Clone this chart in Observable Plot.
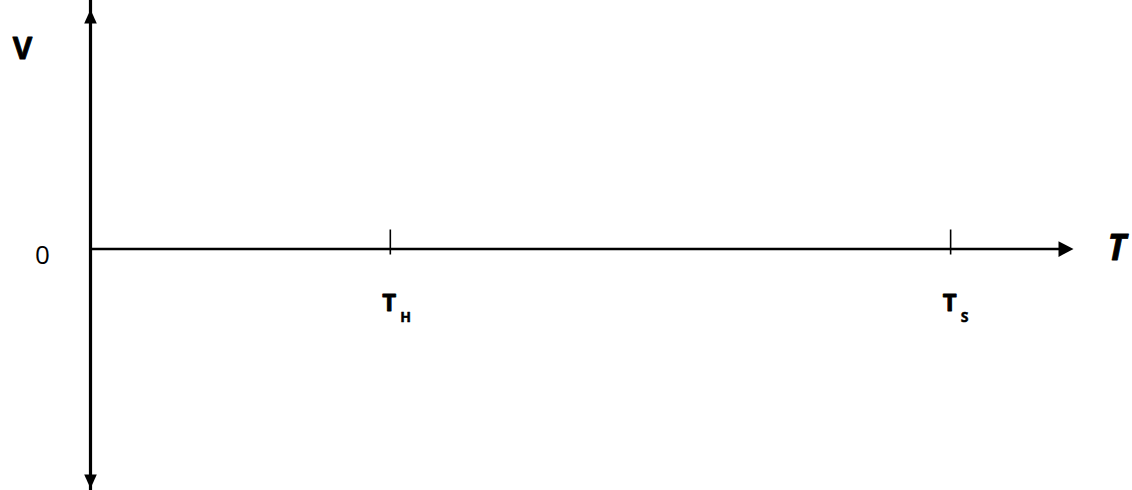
<!DOCTYPE html>
<html>
<head>
<meta charset="utf-8">
<script src="https://cdn.jsdelivr.net/npm/d3@7"></script>
<script src="https://cdn.jsdelivr.net/npm/@observablehq/plot@0.6"></script>
<style>
  html, body { margin: 0; padding: 0; background: #fff; }
  svg { display: block; }
</style>
</head>
<body>
<div id="chart"></div>
<script>
// ---- data ----
const xDomain = [0, 100];           // T axis (schematic)
const yDomain = [-1, 1];            // V axis (schematic)
const tickNames = ["T", "T"];
const tickSubs = ["H", "S"];
const tickValues = [30.5, 87.5];
const originLabel = ["0"];
const yAxisLabel = ["V"];
const xAxisLabel = ["T"];

const ticks = tickValues.map((v, i) => ({x: v, name: tickNames[i], sub: tickSubs[i]}));
const vHeads = [{x: xDomain[0], y: yDomain[1], rot: 0}, {x: xDomain[0], y: yDomain[0], rot: 180}];
const hHeads = [{x: xDomain[1], y: 0, rot: 90}];

// arrowhead symbol with tip at the origin, pointing up
function head(wRatio, hRatio) {
  return {
    draw(ctx, size) {
      const r = Math.sqrt(size / Math.PI);
      const h = hRatio * r, w = wRatio * r;
      ctx.moveTo(0, 0);
      ctx.lineTo(w / 2, h);
      ctx.lineTo(-w / 2, h);
      ctx.closePath();
    }
  };
}

const font = "'Open Sans', Lato, sans-serif";

const chart = Plot.plot({
  width: 1132,
  height: 490,
  marginLeft: 90,
  marginRight: 59,
  marginTop: 9,
  marginBottom: 2,
  style: {fontFamily: font, color: "black", background: "white"},
  x: {domain: xDomain, axis: null},
  y: {domain: yDomain, axis: null},
  marks: [
    // vertical axis
    Plot.ruleX([xDomain[0]], {y1: yDomain[0], y2: yDomain[1], stroke: "black", strokeWidth: 3.2, insetTop: 10, insetBottom: 10}),
    // horizontal axis
    Plot.ruleY([0], {x1: xDomain[0], x2: xDomain[1], stroke: "black", strokeWidth: 2.6, insetRight: 10}),
    // arrowheads
    Plot.dot(vHeads, {x: "x", y: "y", rotate: "rot", r: 7, symbol: head(1.8, 2), fill: "black", stroke: "none"}),
    Plot.dot(hHeads, {x: "x", y: "y", rotate: "rot", r: 7.5, symbol: head(2.1, 2), fill: "black", stroke: "none"}),
    // tick marks
    Plot.ruleX(ticks, {x: "x", y1: 0, y2: 0, insetTop: -19, insetBottom: -6, stroke: "black", strokeWidth: 1.6}),
    // tick labels
    Plot.text(ticks, {x: "x", y: 0, text: "name", dx: -8, dy: 61.5, textAnchor: "start", lineAnchor: "bottom", fontSize: 24, fontWeight: "bold", fill: "black", stroke: "black", strokeWidth: 0.9}),
    Plot.text(ticks, {x: "x", y: 0, text: "sub", dx: 10, dy: 73, textAnchor: "start", lineAnchor: "bottom", fontSize: 14, fontWeight: "bold", fill: "black", stroke: "black", strokeWidth: 0.5}),
    // origin label
    Plot.text(originLabel, {x: xDomain[0], y: 0, text: d => d, dx: -48, dy: 14.5, textAnchor: "middle", lineAnchor: "bottom", fontSize: 26, fill: "black"}),
    // axis labels
    Plot.text(yAxisLabel, {frameAnchor: "top-left", text: d => d, dx: -68, dy: 49, textAnchor: "middle", lineAnchor: "bottom", fontSize: 30, fontWeight: "bold", fill: "black", stroke: "black", strokeWidth: 0.8}),
    Plot.text(xAxisLabel, {frameAnchor: "right", text: d => d, dx: 34, dy: 11, textAnchor: "start", lineAnchor: "bottom", fontSize: 35, fontWeight: "bold", fontStyle: "italic", fill: "black", stroke: "black", strokeWidth: 0.8})
  ]
});
document.getElementById("chart").appendChild(chart);
</script>
</body>
</html>
